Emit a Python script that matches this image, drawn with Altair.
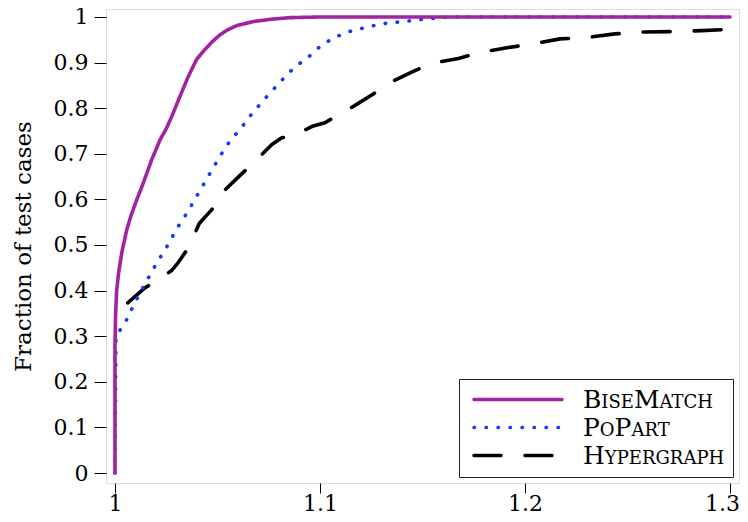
import altair as alt
import pandas as pd

methods = ["BiseMatch", "PoPart", "Hypergraph"]
colors = ["#a0239f", "#1438ff", "#000000"]
dashes = [[1, 0], [0.5, 11.5], [27, 24]]

bise_x = [1.0, 1.0, 1.0003, 1.0008, 1.0018, 1.0033, 1.0057, 1.0080, 1.0106,
          1.0138, 1.0179, 1.0220, 1.0250, 1.0277, 1.0317, 1.0358, 1.0398,
          1.0439, 1.0475, 1.0512, 1.0550, 1.0593, 1.0675, 1.0760, 1.0854,
          1.1000, 1.2000, 1.3000]
bise_y = [0.0, 0.28, 0.35, 0.40, 0.44, 0.483, 0.533, 0.567, 0.599,
          0.636, 0.687, 0.731, 0.755, 0.782, 0.826, 0.870, 0.907,
          0.929, 0.946, 0.961, 0.972, 0.981, 0.990, 0.995, 0.9985,
          1.0, 1.0, 1.0]

po_x = [1.0, 1.0005, 1.0033, 1.0065, 1.0089, 1.0118, 1.0146, 1.0177, 1.0206,
        1.0239, 1.0268, 1.0296, 1.0328, 1.0361, 1.0390, 1.0420, 1.0450,
        1.0480, 1.0512, 1.0541, 1.0580, 1.0618, 1.0650, 1.0688, 1.0723,
        1.0764, 1.0805, 1.0845, 1.0886, 1.0935, 1.0977, 1.1024, 1.1078,
        1.1133, 1.1195, 1.1263, 1.1333, 1.1410, 1.1480, 1.1553, 1.1620,
        1.2000, 1.3000]
po_y = [0.0, 0.30, 0.319, 0.342, 0.367, 0.391, 0.415, 0.439, 0.463,
        0.485, 0.508, 0.532, 0.554, 0.577, 0.601, 0.623, 0.647,
        0.670, 0.694, 0.716, 0.738, 0.758, 0.778, 0.798, 0.817,
        0.837, 0.857, 0.876, 0.894, 0.908, 0.927, 0.943, 0.956,
        0.967, 0.974, 0.981, 0.987, 0.990, 0.994, 0.997, 1.0,
        1.0, 1.0]

hy_x = [1.0062, 1.0146, 1.0232, 1.0276, 1.0309, 1.0369, 1.0390, 1.0411,
        1.0483, 1.0537, 1.0618, 1.0691, 1.0764, 1.0813, 1.0870, 1.0967,
        1.1024, 1.1073, 1.1163, 1.1260, 1.1345, 1.1447, 1.1548, 1.1675,
        1.1789, 1.1919, 1.2041, 1.2171, 1.2304, 1.2439, 1.2577, 1.2724,
        1.2862, 1.3000]
hy_y = [0.373, 0.406, 0.430, 0.444, 0.462, 0.501, 0.526, 0.547,
        0.583, 0.621, 0.656, 0.687, 0.720, 0.735, 0.740, 0.761,
        0.768, 0.781, 0.804, 0.831, 0.857, 0.879, 0.899, 0.909,
        0.923, 0.933, 0.941, 0.952, 0.955, 0.963, 0.967, 0.968,
        0.970, 0.973]

x_ticks = [1.0, 1.1, 1.2, 1.3]
y_ticks = [0.0, 0.1, 0.2, 0.3, 0.4, 0.5, 0.6, 0.7, 0.8, 0.9, 1.0]
y_title = "Fraction of test cases"

rows = []
# BiseMatch last so it is drawn on top
for name, xs, ys in [(methods[2], hy_x, hy_y), (methods[1], po_x, po_y), (methods[0], bise_x, bise_y)]:
    for i, (xv, yv) in enumerate(zip(xs, ys)):
        rows.append({"method": name, "ratio": xv, "frac": yv, "i": i})
df = pd.DataFrame(rows)

FONT = "DejaVu Serif"


class FreeChart(alt.Chart):
    """Chart whose spec may use Vega-Lite's (hidden) legend 'encode' property."""
    def to_dict(self, validate=True, **kwargs):
        return super().to_dict(False, **kwargs)


legend = {
    "title": None,
    "orient": "bottom-right",
    "offset": 6,
    "padding": 8,
    "rowPadding": 2,
    "symbolType": "M-1,0H15",
    "symbolSize": 121,
    "symbolStrokeWidth": 3.5,
    "labelFont": FONT,
    "labelFontSize": 25,
    "labelColor": "black",
    "labelOffset": 91,
    "strokeColor": "#222222",
    "fillColor": "white",
    "encode": {
        "labels": {"update": {"fontVariant": {"value": "small-caps"}}},
        "symbols": {"update": {"strokeCap": {"value": "round"}}},
    },
}

x_axis = {
    "values": x_ticks, "format": "~g", "title": None, "grid": False, "domain": False,
    "tickSize": 10, "tickColor": "black", "tickWidth": 1, "labelPadding": 0,
    "labelFont": FONT, "labelFontSize": 22, "labelColor": "black",
    "labelOffset": {"condition": {"test": "datum.value > 1.25", "value": -8}, "value": 0},
}

y_axis = {
    "values": y_ticks, "format": "~g", "title": y_title, "grid": False, "domain": False,
    "tickSize": 12, "tickColor": "black", "tickWidth": 1, "labelPadding": 6,
    "labelFont": FONT, "labelFontSize": 22, "labelColor": "black",
    "titleFont": FONT, "titleFontSize": 23, "titleFontWeight": "normal",
    "titleColor": "black", "titleX": -76, "titleBaseline": "alphabetic",
}

chart = FreeChart(df).mark_line(
    strokeWidth=3.6, strokeCap="round", strokeJoin="round", clip=True
).encode(
    x=alt.X(
        "ratio:Q",
        scale=alt.Scale(domain=[0.99561, 1.30439], nice=False, zero=False),
        axis=x_axis,
    ),
    y=alt.Y(
        "frac:Q",
        scale=alt.Scale(domain=[-0.0219, 1.0175], nice=False, zero=False),
        axis=y_axis,
    ),
    color=alt.Color("method:N", scale=alt.Scale(domain=methods, range=colors), legend=legend),
    strokeDash=alt.StrokeDash("method:N", scale=alt.Scale(domain=methods, range=dashes), legend=legend),
    order="i:Q",
).properties(
    width=633,
    height=474,
    autosize=alt.AutoSizeParams(type="none"),
    padding={"left": 98, "top": 1, "right": 1, "bottom": 31},
).configure_view(
    stroke="black", strokeWidth=1, fill="white"
).configure(background="white")

chart.save("out.html", embed_options={"renderer": "svg", "actions": False})
